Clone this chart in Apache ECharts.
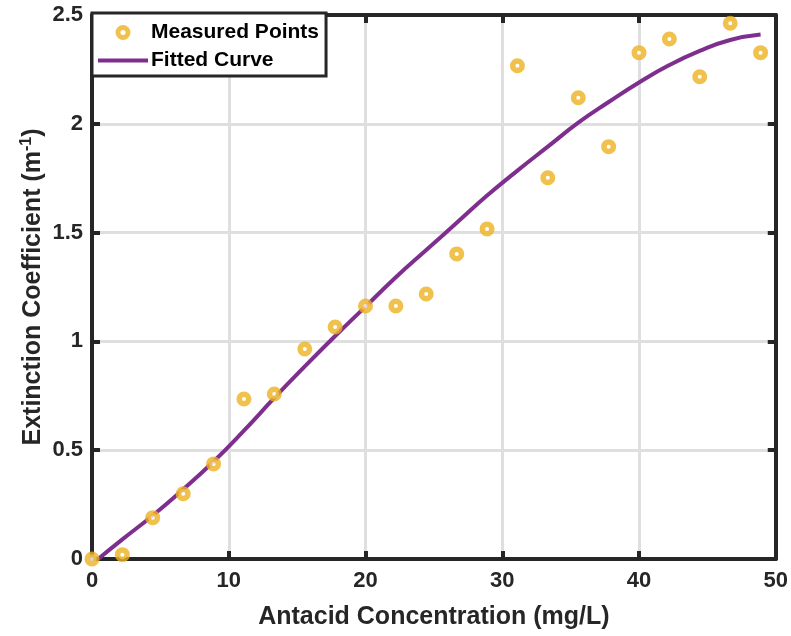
<!DOCTYPE html>
<html>
<head>
<meta charset="utf-8">
<script src="https://cdn.jsdelivr.net/npm/echarts@6/dist/echarts.min.js"></script>
<style>
html,body{margin:0;padding:0;background:#fff;}
#chart{width:791px;height:636px;}
</style>
</head>
<body>
<div id="chart"></div>
<script>
// Measured points
const measuredX = [0, 2.22, 4.44, 6.67, 8.89, 11.11, 13.33, 15.56, 17.78, 20, 22.22, 24.44, 26.67, 28.89, 31.11, 33.33, 35.56, 37.78, 40, 42.22, 44.44, 46.67, 48.89];
const measuredY = [0, 0.02, 0.19, 0.30, 0.437, 0.735, 0.758, 0.965, 1.066, 1.163, 1.163, 1.218, 1.402, 1.517, 2.267, 1.752, 2.12, 1.895, 2.327, 2.39, 2.216, 2.462, 2.327];
// Fitted curve
const fitX = [0.45, 2.22, 4.44, 6.67, 8.89, 11.11, 13.33, 15.56, 17.78, 20, 22.22, 24.44, 26.67, 28.89, 31.11, 33.33, 35.56, 37.78, 40, 42.22, 44.44, 46.67, 48.89];
const fitY = [0, 0.09, 0.2, 0.32, 0.448, 0.59, 0.74, 0.885, 1.025, 1.16, 1.295, 1.42, 1.545, 1.67, 1.785, 1.895, 2.005, 2.1, 2.19, 2.27, 2.335, 2.385, 2.41];
// Axis ticks
const xTicks = {min: 0, max: 50, interval: 10};
const yTicks = {min: 0, max: 2.5, interval: 0.5};

const FONT = "'Liberation Sans', Arial, Helvetica, sans-serif";
const AX = '#262626';
const RING = '#EDB120';
const PURPLE = '#7E2F8E';

const chart = echarts.init(document.getElementById('chart'), null, {renderer: 'canvas'});

function baseAxis(extra) {
  return Object.assign({
    type: 'value',
    axisLine: {show: true, onZero: false, lineStyle: {color: AX, width: 4}},
    axisTick: {show: true, inside: true, length: 8, lineStyle: {color: AX, width: 4}},
    axisLabel: {color: AX, fontSize: 22, fontWeight: 'bold', fontFamily: FONT},
    splitLine: {show: false}
  }, extra);
}

const option = {
  backgroundColor: '#fff',
  animation: false,
  grid: {left: 92, right: 15, top: 15, bottom: 77, containLabel: false},
  legend: {
    left: 92, top: 13,
    orient: 'vertical',
    backgroundColor: '#fff',
    borderColor: AX,
    borderWidth: 3,
    borderRadius: 0,
    padding: [9, 7, 5, 4],
    itemGap: 7,
    itemWidth: 50,
    itemHeight: 10,
    textStyle: {fontSize: 21, fontWeight: 'bold', color: '#000', fontFamily: FONT, padding: [0, 0, 0, -2]},
    data: [
      {name: 'Measured Points', itemStyle: {color: '#fff', borderColor: RING, borderWidth: 5}},
      {name: 'Fitted Curve', itemStyle: {color: 'rgba(0,0,0,0)', borderWidth: 0, opacity: 0}, lineStyle: {color: PURPLE, width: 4}}
    ]
  },
  xAxis: [
    baseAxis(Object.assign({}, xTicks, {
      position: 'bottom',
      name: 'Antacid Concentration (mg/L)',
      nameLocation: 'middle',
      nameMoveOverlap: false,
      nameGap: 46,
      nameTextStyle: {fontSize: 25, fontWeight: 'bold', color: AX, fontFamily: FONT},
      axisLabel: {color: AX, fontSize: 22, fontWeight: 'bold', fontFamily: FONT, margin: 11},
      splitLine: {show: true, lineStyle: {color: '#dfdfdf', width: 3}}
    })),
    baseAxis(Object.assign({}, xTicks, {position: 'top', axisLabel: {show: false}}))
  ],
  yAxis: [
    baseAxis(Object.assign({}, yTicks, {
      position: 'left',
      name: 'Extinction Coefficient (m{sup|-1})',
      nameLocation: 'middle',
      nameMoveOverlap: false,
      nameGap: 45,
      nameTextStyle: {
        fontSize: 25, fontWeight: 'bold', color: AX, fontFamily: FONT,
        rich: {sup: {fontSize: 16, fontWeight: 'bold', color: AX, fontFamily: FONT, padding: [0, 0, 12, 0]}}
      },
      axisLabel: {color: AX, fontSize: 22, fontWeight: 'bold', fontFamily: FONT, margin: 9},
      splitLine: {show: true, lineStyle: {color: '#dfdfdf', width: 3}}
    })),
    baseAxis(Object.assign({}, yTicks, {position: 'right', axisLabel: {show: false}}))
  ],
  series: [
    {
      name: 'Fitted Curve',
      type: 'line',
      xAxisIndex: 0, yAxisIndex: 0,
      smooth: true,
      symbol: 'none',
      lineStyle: {color: PURPLE, width: 4},
      itemStyle: {color: PURPLE},
      data: fitX.map((x, i) => [x, fitY[i]]),
      z: 2
    },
    {
      name: 'Measured Points',
      type: 'scatter',
      xAxisIndex: 0, yAxisIndex: 0,
      symbol: 'circle',
      symbolSize: 9.5,
      itemStyle: {color: '#fff', borderColor: RING, borderWidth: 5.5},
      data: measuredX.map((x, i) => [x, measuredY[i]]),
      z: 3
    }
  ]
};
chart.setOption(option);
</script>
</body>
</html>
